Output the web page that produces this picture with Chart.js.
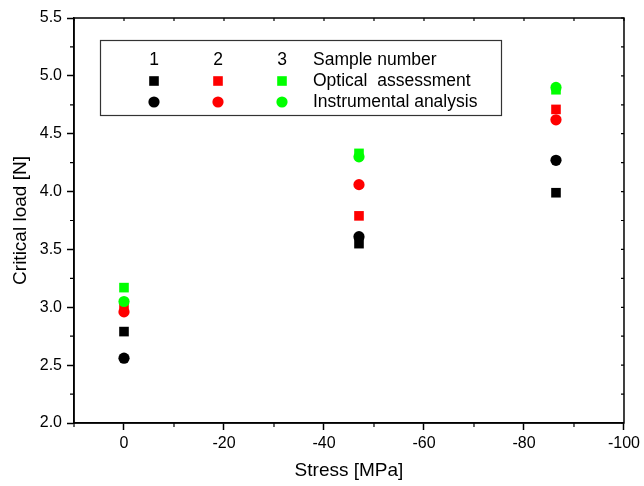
<!DOCTYPE html>
<html>
<head>
<meta charset="utf-8">
<script src="https://cdn.jsdelivr.net/npm/chart.js@4"></script>
<style>
  html, body { margin: 0; padding: 0; background: #fff; }
  #wrap { width: 644px; height: 486px; }
</style>
</head>
<body>
<div id="wrap"><canvas id="chart" width="644" height="486"></canvas></div>
<script>
// data
const stress = [0, -47, -86.4];
const optical1 = [2.79, 3.55, 3.99];
const optical2 = [3.02, 3.79, 4.71];
const optical3 = [3.17, 4.33, 4.88];
const instr1 = [2.56, 3.61, 4.27];
const instr2 = [2.96, 4.06, 4.62];
const instr3 = [3.05, 4.30, 4.90];

const sampleLabels = ['1', '2', '3'];
const sampleColors = ['#000000', '#ff0000', '#00ff00'];
const legendRows = ['Sample number', 'Optical  assessment', 'Instrumental analysis'];

const xTicks = [0, -20, -40, -60, -80, -100];
const xMinor = [10, -10, -30, -50, -70, -90];
const yTicks = [2.0, 2.5, 3.0, 3.5, 4.0, 4.5, 5.0, 5.5];
const yMinor = [2.25, 2.75, 3.25, 3.75, 4.25, 4.75, 5.25];

const FONT = "'Liberation Sans', Arial, sans-serif";

function pts(ys) {
  return stress.map((s, i) => ({ x: s, y: ys[i] }));
}

// lower order = drawn on top
function makeSet(label, ys, color, style, order) {
  return {
    label: label,
    data: pts(ys),
    pointStyle: style,
    pointRadius: style === 'rect' ? 6.8 : 5.6,
    pointHoverRadius: style === 'rect' ? 6.8 : 5.6,
    backgroundColor: color,
    borderColor: color,
    borderWidth: 0,
    order: order,
  };
}

const datasets = [
  makeSet('Optical 1', optical1, sampleColors[0], 'rect', 6),
  makeSet('Instrumental 1', instr1, sampleColors[0], 'circle', 5),
  makeSet('Optical 2', optical2, sampleColors[1], 'rect', 4),
  makeSet('Instrumental 2', instr2, sampleColors[1], 'circle', 3),
  makeSet('Optical 3', optical3, sampleColors[2], 'rect', 2),
  makeSet('Instrumental 3', instr3, sampleColors[2], 'circle', 1),
];

// box, minor ticks and legend
const framePlugin = {
  id: 'frame',
  afterDraw(chart) {
    const { ctx, chartArea: a, scales: { x, y } } = chart;
    ctx.save();
    ctx.strokeStyle = '#000';
    ctx.lineWidth = 1.5;
    ctx.strokeRect(a.left, a.top, a.right - a.left, a.bottom - a.top);

    ctx.lineWidth = 1.2;
    ctx.beginPath();
    xMinor.forEach(v => {
      const px = x.getPixelForValue(v);
      ctx.moveTo(px, a.bottom); ctx.lineTo(px, a.bottom + 4);
    });
    xTicks.concat(xMinor).forEach(v => {
      const px = x.getPixelForValue(v);
      ctx.moveTo(px, a.top); ctx.lineTo(px, a.top + 3);
    });
    yMinor.forEach(v => {
      const py = y.getPixelForValue(v);
      ctx.moveTo(a.left, py); ctx.lineTo(a.left - 4, py);
    });
    yTicks.concat(yMinor).forEach(v => {
      const py = y.getPixelForValue(v);
      ctx.moveTo(a.right, py); ctx.lineTo(a.right - 3, py);
    });
    ctx.stroke();

    // legend box
    const bx = 100.5, by = 40.5, bw = 401, bh = 75;
    ctx.fillStyle = '#fff';
    ctx.fillRect(bx, by, bw, bh);
    ctx.strokeStyle = '#333';
    ctx.lineWidth = 1.2;
    ctx.strokeRect(bx, by, bw, bh);

    const colX = [154, 218, 282];
    const rowY = [60, 81, 102];
    ctx.font = '17.5px ' + FONT;
    ctx.textBaseline = 'middle';
    ctx.textAlign = 'center';
    ctx.fillStyle = '#000';
    sampleLabels.forEach((t, i) => ctx.fillText(t, colX[i], rowY[0]));
    sampleColors.forEach((c, i) => {
      ctx.fillStyle = c;
      ctx.fillRect(colX[i] - 4.8, rowY[1] - 4.8, 9.6, 9.6);
      ctx.beginPath();
      ctx.arc(colX[i], rowY[2], 5.6, 0, Math.PI * 2);
      ctx.fill();
    });
    ctx.fillStyle = '#000';
    ctx.textAlign = 'left';
    legendRows.forEach((t, i) => ctx.fillText(t, 313, rowY[i]));
    ctx.restore();
  }
};

new Chart(document.getElementById('chart'), {
  type: 'scatter',
  data: { datasets: datasets },
  options: {
    responsive: false,
    animation: false,
    layout: { padding: { top: 18, right: 17, left: 0, bottom: 0 } },
    plugins: { legend: { display: false }, tooltip: { enabled: false } },
    scales: {
      x: {
        type: 'linear',
        reverse: true,
        min: -100,
        max: 10,
        afterBuildTicks: s => { s.ticks = xTicks.map(v => ({ value: v })); },
        afterFit: s => { s.height = 63; },
        ticks: {
          color: '#000',
          font: { family: FONT, size: 16 },
          padding: 4,
          maxRotation: 0,
          callback: v => String(v),
        },
        grid: { drawOnChartArea: false, tickLength: 7, tickColor: '#000', tickWidth: 1.5 },
        border: { display: true, color: '#000', width: 1.5 },
        title: {
          display: true,
          text: 'Stress [MPa]',
          color: '#000',
          font: { family: FONT, size: 19 },
          padding: { top: 0, bottom: 4 },
        },
      },
      y: {
        min: 2,
        max: 5.5,
        afterBuildTicks: s => { s.ticks = yTicks.map(v => ({ value: v })); },
        afterFit: s => { s.width = 74; },
        ticks: {
          color: '#000',
          font: { family: FONT, size: 16 },
          padding: 5,
          callback: v => v.toFixed(1),
        },
        grid: { drawOnChartArea: false, tickLength: 7, tickColor: '#000', tickWidth: 1.5 },
        border: { display: true, color: '#000', width: 1.5 },
        title: {
          display: true,
          text: 'Critical load [N]',
          color: '#000',
          font: { family: FONT, size: 19 },
          padding: { top: 9, bottom: 0 },
        },
      },
    },
  },
  plugins: [framePlugin],
});
</script>
</body>
</html>
